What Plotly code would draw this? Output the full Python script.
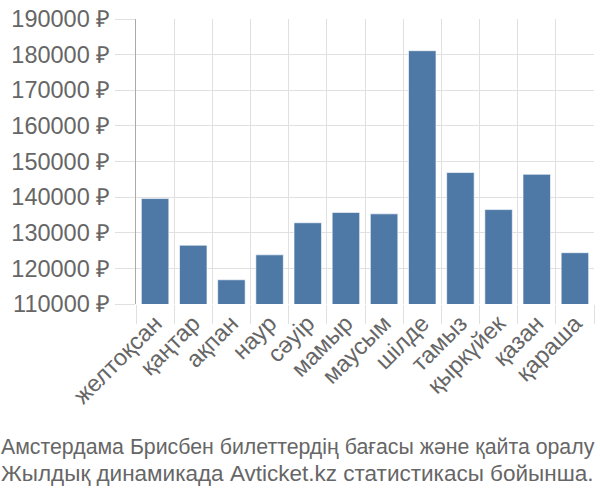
import plotly.graph_objects as go

months = ["желтоқсан", "қаңтар", "ақпан", "наур", "сәуір", "мамыр", "маусым",
          "шілде", "тамыз", "қыркүйек", "қазан", "қараша"]
prices = [139600, 126500, 116800, 123800, 132800, 135700, 135300,
          181100, 146900, 136500, 146400, 124400]
tick_vals = [110000, 120000, 130000, 140000, 150000, 160000, 170000, 180000, 190000]
tick_text = [f"{v} ₽" for v in tick_vals]
caption_lines = ["Амстердама Брисбен билеттердің бағасы және қайта оралу",
                 "Жылдық динамикада Avticket.kz статистикасы бойынша."]
caption_sizes = [21.3, 22.5]

fig = go.Figure(go.Bar(
    x=months, y=prices,
    marker=dict(color="#4e79a7", line=dict(color="rgba(255,255,255,0.6)", width=1)),
))

font_family = "Liberation Sans, Arial, sans-serif"
fig.update_layout(
    width=600, height=500,
    margin=dict(l=136, r=6, t=14, b=196),
    paper_bgcolor="white", plot_bgcolor="white",
    bargap=0.28,
    showlegend=False,
    font=dict(family=font_family, color="#666666"),
    xaxis=dict(
        type="category", tickson="boundaries",
        showgrid=True, gridcolor="#e0e0e0", gridwidth=1,
        ticks="outside", ticklen=19, tickcolor="#e0e0e0",
        tickangle=-45, tickfont=dict(size=23.5, color="#666666"),
        showline=False, zeroline=False,
    ),
    yaxis=dict(
        range=[110000, 190000],
        tickvals=tick_vals, ticktext=tick_text,
        showgrid=True, gridcolor="#e0e0e0", gridwidth=1,
        ticks="outside", ticklen=20, tickcolor="#e0e0e0",
        tickfont=dict(size=23.5, color="#666666"),
        showline=True, linecolor="#aaaaaa", linewidth=1,
        zeroline=False,
    ),
    annotations=[dict(
        text=line, xref="paper", yref="paper",
        x=0, y=0, xanchor="left", yanchor="middle",
        xshift=-137, yshift=shift,
        showarrow=False, align="left",
        font=dict(size=size, color="#666666", family=font_family),
    ) for line, shift, size in zip(caption_lines, [-143, -169], caption_sizes)],
)

fig.write_html("out.html")
